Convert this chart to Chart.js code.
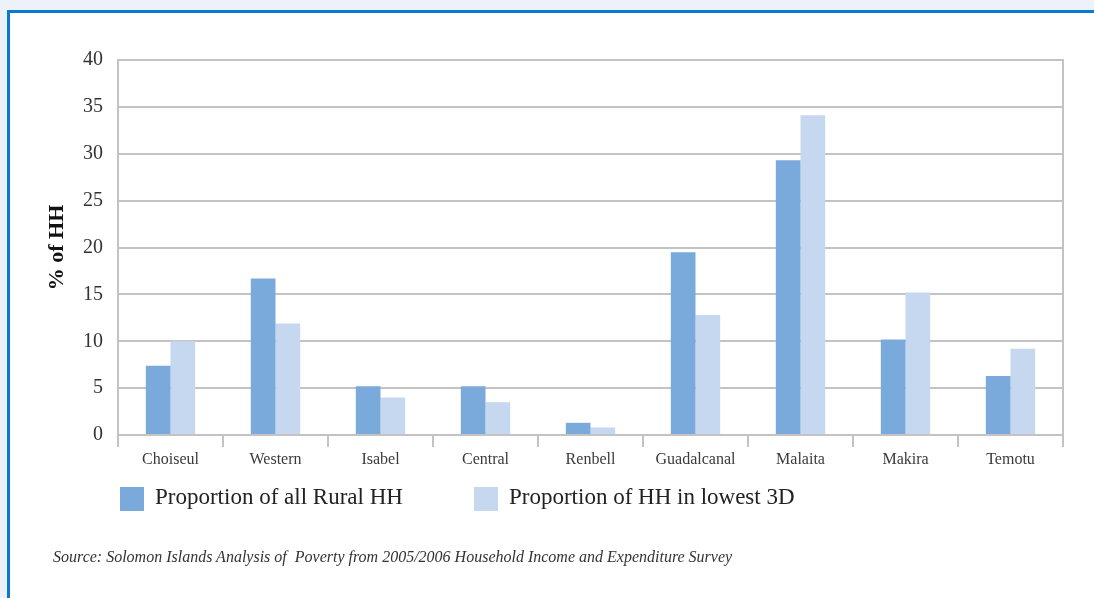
<!DOCTYPE html>
<html>
<head>
<meta charset="utf-8">
<script src="https://cdn.jsdelivr.net/npm/chart.js@4.4.0/dist/chart.umd.min.js"></script>
<style>
  html, body { margin: 0; padding: 0; }
  body { width: 1094px; height: 598px; background: #edf2fa; position: relative; overflow: hidden; }
  #frame { position: absolute; left: 7px; top: 10px; right: 0; bottom: 0; background: #fff;
           border-top: 3px solid #0a7bcc; border-left: 3px solid #0a7bcc; }
  #myChart { position: absolute; left: 0; top: 0; }
  #legend { position: absolute; left: 120px; top: 484px; font-family: "Liberation Serif", serif;
            font-size: 23px; color: #222; }
  .item { position: absolute; top: 0; white-space: nowrap; }
  .item span.box { position: absolute; left: 0; top: 3px; width: 24px; height: 24px; }
  .item span.txt { position: absolute; left: 35px; top: 0; }
  #source { position: absolute; left: 53px; top: 548px; font-family: "Liberation Serif", serif;
            font-style: italic; font-size: 16px; color: #333; white-space: pre; }
</style>
</head>
<body>
<div id="frame"></div>
<canvas id="myChart" width="1094" height="598"></canvas>
<div id="legend"></div>
<div id="source">Source: Solomon Islands Analysis of  Poverty from 2005/2006 Household Income and Expenditure Survey</div>
<script>
const ctx = document.getElementById('myChart');

// provinces
var provinces = ["Choiseul", "Western", "Isabel", "Central", "Renbell", "Guadalcanal", "Malaita", "Makira", "Temotu"]
// % of households
var allRural = [7.4, 16.7, 5.2, 5.2, 1.3, 19.5, 29.3, 10.2, 6.3]
var lowest3D = [10.0, 11.9, 4.0, 3.5, 0.8, 12.8, 34.1, 15.2, 9.2]
var seriesNames = ["Proportion of all Rural HH", "Proportion of HH in lowest 3D"]
var seriesColors = ["#7aaadb", "#c5d8ef"]
var yTicks = [0, 5, 10, 15, 20, 25, 30, 35, 40]

var gridColor = "#c3c3c6"
var serif = "'Liberation Serif', 'Times New Roman', serif"

let chart = new Chart(ctx, {
  type: 'bar',
  data: {
    labels: provinces,
    datasets: [{
      label: seriesNames[0],
      data: allRural,
      backgroundColor: seriesColors[0],
      categoryPercentage: 0.47,
      barPercentage: 1.0
    }, {
      label: seriesNames[1],
      data: lowest3D,
      backgroundColor: seriesColors[1],
      categoryPercentage: 0.47,
      barPercentage: 1.0
    }]
  },
  options: {
    responsive: false,
    animation: false,
    layout: {
      padding: { left: 32, right: 31, top: 60, bottom: 133 }
    },
    plugins: {
      legend: { display: false },
      tooltip: { enabled: false }
    },
    scales: {
      x: {
        offset: true,
        grid: {
          offset: true,
          drawOnChartArea: false,
          drawTicks: true,
          tickLength: 12,
          color: gridColor,
          lineWidth: 2
        },
        border: { display: true, color: gridColor, width: 2 },
        ticks: {
          color: "#3a3a3a",
          font: { family: serif, size: 16 },
          padding: 3,
          maxRotation: 0,
          autoSkip: false
        },
        afterFit: function (scale) { scale.height = 30 }
      },
      y: {
        min: 0,
        max: 40,
        afterBuildTicks: function (scale) {
          scale.ticks = yTicks.map(v => ({ value: v }))
        },
        grid: {
          drawTicks: false,
          color: gridColor,
          lineWidth: 2
        },
        border: { display: true, color: gridColor, width: 2 },
        ticks: {
          color: "#333",
          font: { family: serif, size: 20 },
          padding: 15
        },
        title: {
          display: true,
          text: "% of HH",
          color: "#111",
          font: { family: serif, size: 22, weight: 'bold' },
          padding: { top: 12, bottom: 0 }
        },
        afterFit: function (scale) { scale.width = 86 }
      },
      y2: {
        position: 'right',
        min: 0,
        max: 40,
        grid: { display: false, drawTicks: false },
        border: { display: true, color: gridColor, width: 2 },
        ticks: { display: false },
        afterFit: function (scale) { scale.width = 0 }
      }
    }
  }
});

// legend under the chart
let legend = document.getElementById('legend')
let offsets = [0, 354]
seriesNames.forEach(function (name, i) {
  let item = document.createElement('div')
  item.className = 'item'
  item.style.left = offsets[i] + 'px'
  item.innerHTML = '<span class="box" style="background:' + seriesColors[i] + '"></span><span class="txt">' + name + '</span>'
  legend.appendChild(item)
})
</script>
</body>
</html>
